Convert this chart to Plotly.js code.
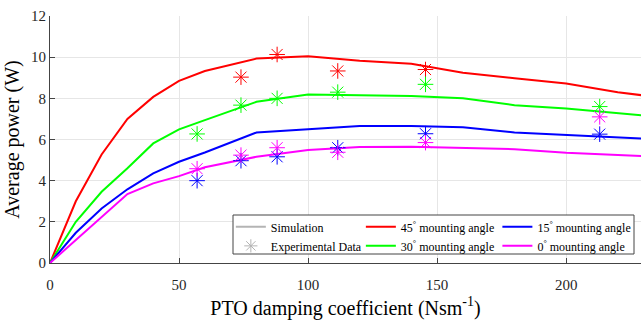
<!DOCTYPE html>
<html>
<head>
<meta charset="utf-8">
<script src="https://cdn.plot.ly/plotly-3.0.1.min.js"></script>
<style>html,body{margin:0;padding:0;background:#fff}#chart{width:641px;height:320px}</style>
</head>
<body>
<div id="chart"></div>
<script>
// Simulation (lines)
const simDamping = [0, 10, 20, 30, 40, 50, 60, 80, 100, 120, 140, 160, 180, 200, 220, 240];
const sim45 = [0, 3.00, 5.27, 7.00, 8.07, 8.85, 9.33, 9.93, 10.05, 9.83, 9.68, 9.24, 8.98, 8.72, 8.30, 7.98];
const sim30 = [0, 2.00, 3.46, 4.60, 5.81, 6.49, 6.94, 7.83, 8.19, 8.15, 8.11, 8.00, 7.67, 7.51, 7.28, 7.05];
const sim15 = [0, 1.47, 2.65, 3.58, 4.35, 4.92, 5.37, 6.34, 6.50, 6.65, 6.65, 6.59, 6.34, 6.22, 6.10, 5.98];
const sim0  = [0, 1.12, 2.25, 3.35, 3.87, 4.22, 4.65, 5.16, 5.49, 5.63, 5.65, 5.60, 5.53, 5.36, 5.24, 5.14];

// Experimental data (asterisks)
const expDamping45 = [74, 88, 111.5, 145.5];
const exp45 = [9.03, 10.13, 9.33, 9.40];
const expDamping = [57, 74, 88, 111.5, 145.5, 213];
const exp30 = [6.27, 7.67, 8.00, 8.30, 8.68, 7.60];
const exp15 = [4.00, 4.97, 5.16, 5.60, 6.28, 6.26];
const exp0  = [4.58, 5.24, 5.60, 5.38, 5.85, 7.10];

const xTicks = [0, 50, 100, 150, 200];
const yTicks = [0, 2, 4, 6, 8, 10, 12];

const FONT = '"Liberation Serif", serif';
const C45 = '#ff0000', C30 = '#00ff00', C15 = '#0000ff', C0 = '#ff00ff', GRAY = '#b4b4b4';

function simTrace(y, color, name, legend) {
  return {x: simDamping, y: y, type: 'scatter', mode: 'lines', name: name,
    line: {color: color, width: 2}, legend: legend, cliponaxis: true};
}
function expTrace(x, y, color) {
  return {x: x, y: y, type: 'scatter', mode: 'markers', showlegend: false,
    marker: {symbol: 'asterisk-open', size: 13, color: color, line: {color: color, width: 1}}};
}

const data = [
  {x: [null], y: [null], type: 'scatter', mode: 'lines', name: 'Simulation',
   line: {color: GRAY, width: 2}, legend: 'legend'},
  {x: [null], y: [null], type: 'scatter', mode: 'markers', name: 'Experimental Data',
   marker: {symbol: 'asterisk-open', size: 11, color: GRAY, line: {color: GRAY, width: 1}}, legend: 'legend'},
  simTrace(sim45, C45, '45<sup>°</sup> mounting angle', 'legend2'),
  simTrace(sim30, C30, '30<sup>°</sup> mounting angle', 'legend2'),
  simTrace(sim15, C15, '15<sup>°</sup> mounting angle', 'legend3'),
  simTrace(sim0, C0, '0<sup>°</sup> mounting angle', 'legend3'),
  expTrace(expDamping45, exp45, C45),
  expTrace(expDamping, exp30, C30),
  expTrace(expDamping, exp15, C15),
  expTrace(expDamping, exp0, C0)
];

function legendAt(x) {
  return {x: x, y: 0.205, xanchor: 'left', yanchor: 'top', orientation: 'v',
    bgcolor: 'rgba(0,0,0,0)', borderwidth: 0, itemwidth: 30, tracegroupgap: 0,
    font: {family: FONT, size: 12, color: '#000'}};
}

const layout = {
  width: 641, height: 320,
  margin: {l: 50, r: 0, t: 16, b: 57},
  paper_bgcolor: '#fff', plot_bgcolor: '#fff',
  font: {family: FONT, size: 15, color: '#262626'},
  showlegend: true,
  xaxis: {
    range: [0, 229], tickvals: xTicks, ticktext: xTicks.map(String),
    showgrid: true, gridcolor: '#e6e6e6', gridwidth: 1, zeroline: false,
    showline: true, linecolor: '#444', linewidth: 1,
    ticks: 'inside', ticklen: 5, tickcolor: '#444', ticklabelstandoff: 8,
    tickfont: {family: FONT, size: 15, color: '#262626'},
    title: {text: 'PTO damping coefficient (Nsm<sup>-1</sup>)', font: {family: FONT, size: 20, color: '#000'}, standoff: 8}
  },
  yaxis: {
    range: [0, 12], tickvals: yTicks, ticktext: yTicks.map(String),
    showgrid: true, gridcolor: '#e6e6e6', gridwidth: 1, zeroline: false,
    showline: true, linecolor: '#444', linewidth: 1,
    ticks: 'inside', ticklen: 5, tickcolor: '#444',
    tickfont: {family: FONT, size: 15, color: '#262626'},
    title: {text: 'Average power (W)', font: {family: FONT, size: 20, color: '#000'}, standoff: 6}
  },
  legend: legendAt(0.306),
  legend2: legendAt(0.526),
  legend3: legendAt(0.757),
  shapes: [{
    type: 'rect', xref: 'paper', yref: 'paper', layer: 'above',
    x0: (233 - 50) / 591, x1: (634 - 50) / 591,
    y0: (263 - 254) / 247, y1: (263 - 215) / 247,
    fillcolor: '#fff', line: {color: '#444', width: 1}
  }]
};

Plotly.newPlot('chart', data, layout, {displayModeBar: false, staticPlot: true});
</script>
</body>
</html>
